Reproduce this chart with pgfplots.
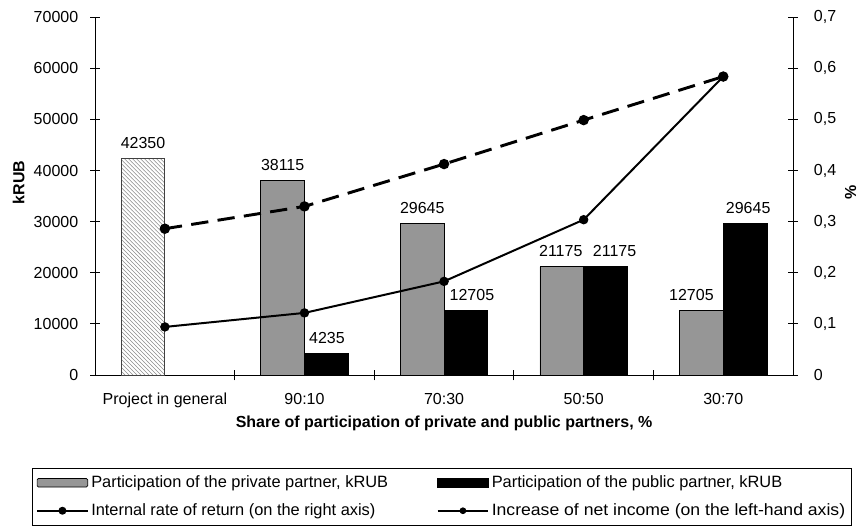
\documentclass[border=0pt,12pt]{standalone}
\usepackage{fontspec}
\setmainfont{Liberation Sans}
\usepackage{graphicx}
\usepackage{pgfplots}
\usepackage{pgfplotstable}
\pgfplotsset{compat=1.18}
\usetikzlibrary{patterns}

\definecolor{barGray}{RGB}{150,150,150}

\pgfplotsset{
  common/.style={
    scale only axis, width=524pt, height=268.7pt,
    xmin=-0.5, xmax=4.5,
    tick align=center, major tick length=7pt, minor tick length=8pt,
    axis line style={line width=0.7pt},
    every tick/.style={black, line width=0.7pt},
    /pgf/number format/assume math mode=true,
    /pgf/number format/1000 sep={},
  },
}

% one category is 104.8pt wide, half a bar (16.4pt) is 0.1565 of it:
% private bars sit at x-0.1565, public bars at x+0.1565
% dx = sideways nudge of the value label (pt), as in the original
\pgfplotstableread{
x       y      dx
0.8435  38115  0
1.8435  29645  0
2.8435  21175  -0.8
3.8435  12705  -7.5
}\private
\pgfplotstableread{
x       y      dx
1.1565  4235   0.5
2.1565  12705  4.5
3.1565  21175  6.8
4.1565  29645  2.3
}\public

\begin{document}
\begin{tikzpicture}
\begin{axis}[common, name=main,
  ymin=0, ymax=70000,
  axis x line*=bottom, axis y line*=left,
  ytick={0,10000,20000,30000,40000,50000,60000,70000},
  scaled y ticks=false,
  yticklabel style={xshift=-5pt},
  xtick={0,1,2,3,4},
  xticklabels={Project in general,90:10,70:30,50:50,30:70},
  major x tick style={draw=none},
  minor xtick={0.5,1.5,2.5,3.5},
  xticklabel style={yshift=-6pt},
  xlabel={\textbf{Share of participation of private and public partners, \%}},
  xlabel style={at={(axis description cs:0.5,-0.135)}, anchor=center},
  ylabel={\textbf{kRUB}},
  ylabel style={at={(axis description cs:-0.1095,0.538)}, anchor=center},
  bar width=32.8pt,
  every node near coord/.append style={anchor=south, yshift=3pt, black},
]
% project in general
\addplot[ybar, bar shift=0pt, draw=black!75, line width=0.6pt,
  pattern=north west lines, pattern color=black!45, nodes near coords]
  coordinates {(-0.1565,42350)};
% private partner
\addplot[ybar, bar shift=0pt, fill=barGray, draw=black, line width=0.6pt,
  nodes near coords, visualization depends on={\thisrow{dx} \as \dx},
  every node near coord/.append style={xshift=\dx}]
  table[x=x, y=y] {\private};
% public partner
\addplot[ybar, bar shift=0pt, fill=black, draw=black, line width=0.6pt,
  nodes near coords, visualization depends on={\thisrow{dx} \as \dx},
  every node near coord/.append style={xshift=\dx}]
  table[x=x, y=y] {\public};
% increase of net income (left axis)
\addplot[black, line width=2.2pt, dash pattern=on 13pt off 7pt, mark=*,
  mark size=2.75pt, mark options={solid}]
  coordinates {(0,28630) (1,32990) (2,41270) (3,49870) (4,58390)};
\end{axis}

\begin{axis}[common,
  ymin=0, ymax=0.7,
  axis y line*=right, axis x line=none,
  xtick=\empty,
  ytick={0,0.1,0.2,0.3,0.4,0.5,0.6,0.7},
  yticklabel style={xshift=8pt, /pgf/number format/.cd, fixed, precision=1, use comma},
  ylabel={\textbf{\%}},
  ylabel style={at={(axis description cs:1.0823,0.5095)}, anchor=center, inner sep=0pt},
  legend columns=2,
  legend cell align=left,
  legend style={at={(axis description cs:-0.0906,-0.259)}, anchor=north west,
    draw=black, line width=0.6pt, inner xsep=3pt, inner ysep=3.2pt,
    font=\fontsize{12.3}{14.5}\selectfont,
    nodes={inner sep=2pt, text height=9pt, text depth=2.5pt},
    row sep=5.5pt,
    /tikz/every even column/.append style={column sep=34.5pt}},
]
\addlegendimage{legend image code/.code={
  \draw[fill=barGray, draw=black, line width=0.5pt, rounded corners=1pt] (0pt,-3.2pt) rectangle (38pt,3.2pt);}}
\addlegendentry{Participation of the private partner, kRUB}
\addlegendimage{legend image code/.code={
  \fill[black] (0pt,-3.6pt) rectangle (38pt,3.6pt);}}
\addlegendentry{Participation of the public partner, kRUB}
% internal rate of return (right axis)
\addplot[black, line width=1.5pt, mark=*, mark size=2.75pt,
  legend image code/.code={
    \draw[black, line width=1.3pt] (0pt,0pt) -- (38pt,0pt);
    \fill[black] (19pt,0pt) circle (2.2pt);}]
  coordinates {(0,0.0942) (1,0.1216) (2,0.1833) (3,0.3039) (4,0.5839)};
\addlegendentry{Internal rate of return (on the right axis)}
\addlegendimage{legend image code/.code={
    \draw[black, line width=1.3pt] (0pt,0pt) -- (38pt,0pt);
    \fill[black] (19pt,0pt) circle (2.2pt);}}
\addlegendentry{\scalebox{1.075}[1]{Increase of net income (on the left-hand axis)}}
\end{axis}

\path (main.south west) ++(-71.4pt,-112.5pt) coordinate (bbsw);
\path (main.north east) ++(49.5pt,12.9pt) coordinate (bbne);
\path (bbsw) rectangle (bbne);
\end{tikzpicture}
\end{document}
